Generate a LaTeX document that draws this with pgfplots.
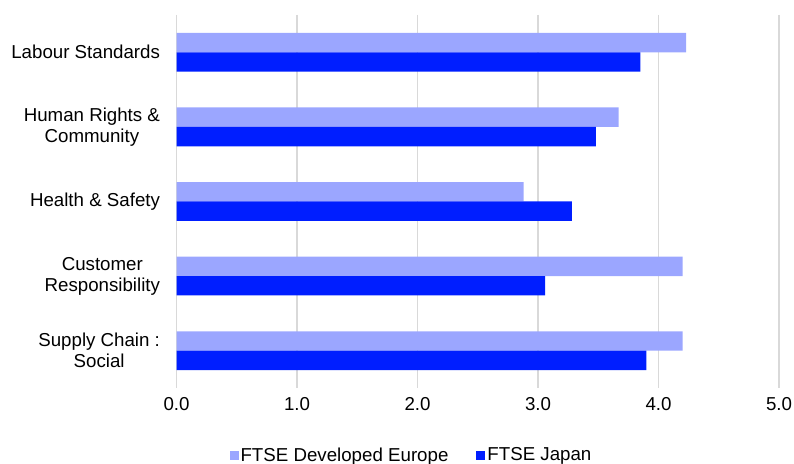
\documentclass[border=0pt]{standalone}
\usepackage{pgfplots}
\pgfplotsset{compat=1.18}
\usepackage{fontspec}
\setmainfont{Liberation Sans}
\definecolor{eur}{RGB}{155,166,255}
\definecolor{jap}{RGB}{0,30,255}
\definecolor{gridc}{RGB}{217,217,217}
\begin{document}
\begin{tikzpicture}[x=1bp,y=1bp]
\useasboundingbox (0,0) rectangle (794,464);
\begin{axis}[
  at={(176.5bp,76bp)}, anchor=south west,
  scale only axis, width=602.5bp, height=373bp,
  xbar, bar width=0.26,
  xmin=0, xmax=5, ymin=-0.5, ymax=4.5, y dir=reverse,
  xtick={0,1,2,3,4,5},
  ytick={0,1,2,3,4},
  yticklabels={Labour Standards,{Human Rights \&\\Community},Health \& Safety,{Customer\\Responsibility},{Supply Chain :\\Social}},
  x tick label style={yshift=-6bp, /pgf/number format/fixed, /pgf/number format/fixed zerofill, /pgf/number format/precision=1, /pgf/number format/assume math mode=true},
  every tick label/.append style={font=\fontsize{18.7bp}{21bp}\selectfont},
  yticklabel style={align=center, xshift=-13bp},
  major tick length=0pt,
  axis line style={draw=none},
  xmajorgrids, grid style={gridc, line width=1.5bp},
  legend style={at={(0.39,-0.18)}, anchor=center, draw=none, legend columns=2,
    font=\fontsize{18.7bp}{21bp}\selectfont,
    /tikz/every even column/.append style={column sep=26bp}},
  legend image code/.code={\fill[#1] (0bp,-4.5bp) rectangle (9bp,4.5bp);},
]
\addplot[fill=eur, draw=none, bar shift=-0.13] coordinates {(4.23,0) (3.67,1) (2.88,2) (4.20,3) (4.20,4)};
\addplot[fill=jap, draw=none, bar shift=0.13] coordinates {(3.85,0) (3.48,1) (3.28,2) (3.06,3) (3.90,4)};
\legend{FTSE Developed Europe, FTSE Japan}
\end{axis}
\end{tikzpicture}
\end{document}
